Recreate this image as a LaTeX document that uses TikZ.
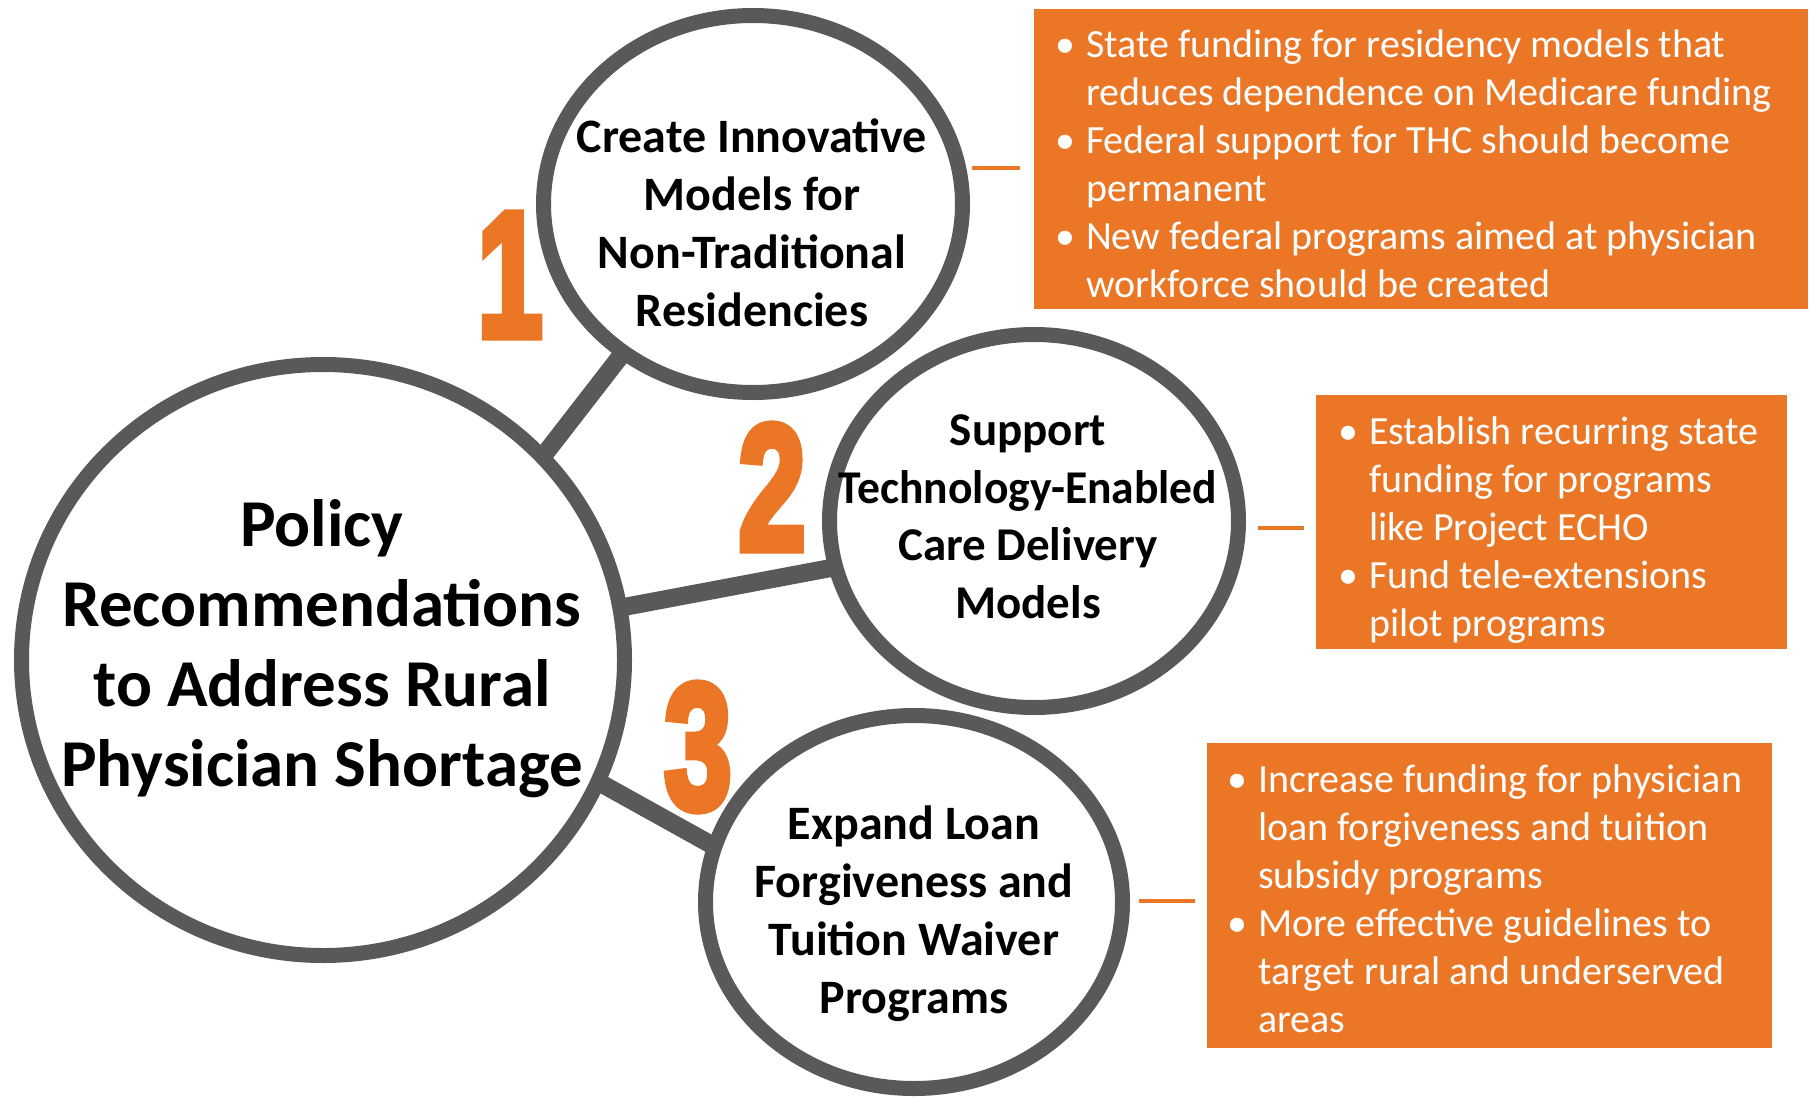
\documentclass[tikz,border=0pt]{standalone}
\usepackage{graphicx}
\usepackage{fontspec}
\setmainfont{Carlito}
\newfontfamily\numfont[FakeBold=5]{Liberation Sans Bold}
\usetikzlibrary{shapes.geometric,backgrounds}
\definecolor{gry}{HTML}{595959}
\definecolor{org}{HTML}{EB7626}
\tikzset{
  ring/.style={ellipse, draw=gry, line width=15pt, fill=white, inner sep=0pt},
  bar/.style={draw=gry, line width=18pt, shorten <=-25pt, shorten >=-25pt},
  numtxt/.style={text=org, inner sep=0pt, font=\numfont\fontsize{178}{178}\selectfont},
  ctext/.style={align=center, inner sep=0pt, font=\bfseries\fontsize{48}{58}\selectfont},
  bigtext/.style={align=center, inner sep=0pt, font=\bfseries\fontsize{67}{80}\selectfont},
  obox/.style={fill=org, draw=none, inner sep=0pt, anchor=north west},
  btext/.style={text=white, inner sep=0pt, anchor=base west, font=\fontsize{40}{48}\selectfont},
  tick/.style={draw=org, line width=4pt}
}
\begin{document}
\begin{tikzpicture}[x=1pt,y=-1pt]
\useasboundingbox (0,0) rectangle (1810,1098);
% circles
\node[ring, minimum width=603pt, minimum height=591pt] (big) at (323,660) {};
\node[ring, minimum width=419pt, minimum height=377pt] (c1) at (753,204) {};
\node[ring, minimum width=409pt, minimum height=373pt] (c2) at (1034,521) {};
\node[ring, minimum width=417pt, minimum height=373pt] (c3) at (914,902) {};
% connectors behind the circles
\begin{pgfonlayer}{background}
\draw[bar] (big.43.5) -- (c1.229.2);
\draw[bar] (big.10.7) -- (c2.193.2);
\draw[bar] (big.-24.6) -- (c3.164.7);
\end{pgfonlayer}
% circle texts
\node[bigtext] (bigtxt) at (322,649) {Policy\\Recommendations\\to Address Rural\\Physician Shortage};
\node[ctext] (t1) at (752,223) {Create Innovative\\Models for\\Non-Traditional\\Residencies};
\node[ctext, font=\bfseries\fontsize{47}{57.5}\selectfont] (t2) at (1028,517) {Support\\\scalebox{0.97}[1]{Technology-Enabled}\\Care Delivery\\Models};
\node[ctext] (t3) at (914,914) {Expand Loan\\Forgiveness and\\Tuition Waiver\\Programs};
% numbers
\node[numtxt] (n1) at (510,275) {\scalebox{0.66}[1]{1}};
\node[numtxt] (n2) at (772,487) {\scalebox{0.68}[1]{2}};
\node[numtxt] (n3) at (698,747) {\scalebox{0.68}[1]{3}};
% orange boxes
\node[obox, minimum width=774pt, minimum height=300pt] (b1) at (1034,9) {};
\node[obox, minimum width=471pt, minimum height=254pt] (b2) at (1316,395) {};
\node[obox, minimum width=565pt, minimum height=305pt] (b3) at (1207,743) {};
% ticks
\coordinate (d1a) at (972,168); \coordinate (d1b) at (1020,168);
\coordinate (d2a) at (1258,528); \coordinate (d2b) at (1304,528);
\coordinate (d3a) at (1139,901); \coordinate (d3b) at (1195,901);
\draw[tick] (d1a) -- (d1b);
\draw[tick] (d2a) -- (d2b);
\draw[tick] (d3a) -- (d3b);
% box texts
\node[btext] (l1) at (1055,57) {\begin{tabular}[t]{@{}l@{\hspace{11pt}}l@{}}
\textbullet & State funding for residency models that\\
 & reduces dependence on Medicare funding\\
\textbullet & Federal support for THC should become\\
 & permanent\\
\textbullet & New federal programs aimed at physician\\
 & workforce should be created
\end{tabular}};
\node[btext] (l2) at (1338,444) {\begin{tabular}[t]{@{}l@{\hspace{11pt}}l@{}}
\textbullet & Establish recurring state\\
 & funding for programs\\
 & like Project ECHO\\
\textbullet & Fund tele-extensions\\
 & pilot programs
\end{tabular}};
\node[btext] (l3) at (1227,792) {\begin{tabular}[t]{@{}l@{\hspace{11pt}}l@{}}
\textbullet & Increase funding for physician\\
 & loan forgiveness and tuition\\
 & subsidy programs\\
\textbullet & More effective guidelines to\\
 & target rural and underserved\\
 & areas
\end{tabular}};
\end{tikzpicture}
\end{document}
